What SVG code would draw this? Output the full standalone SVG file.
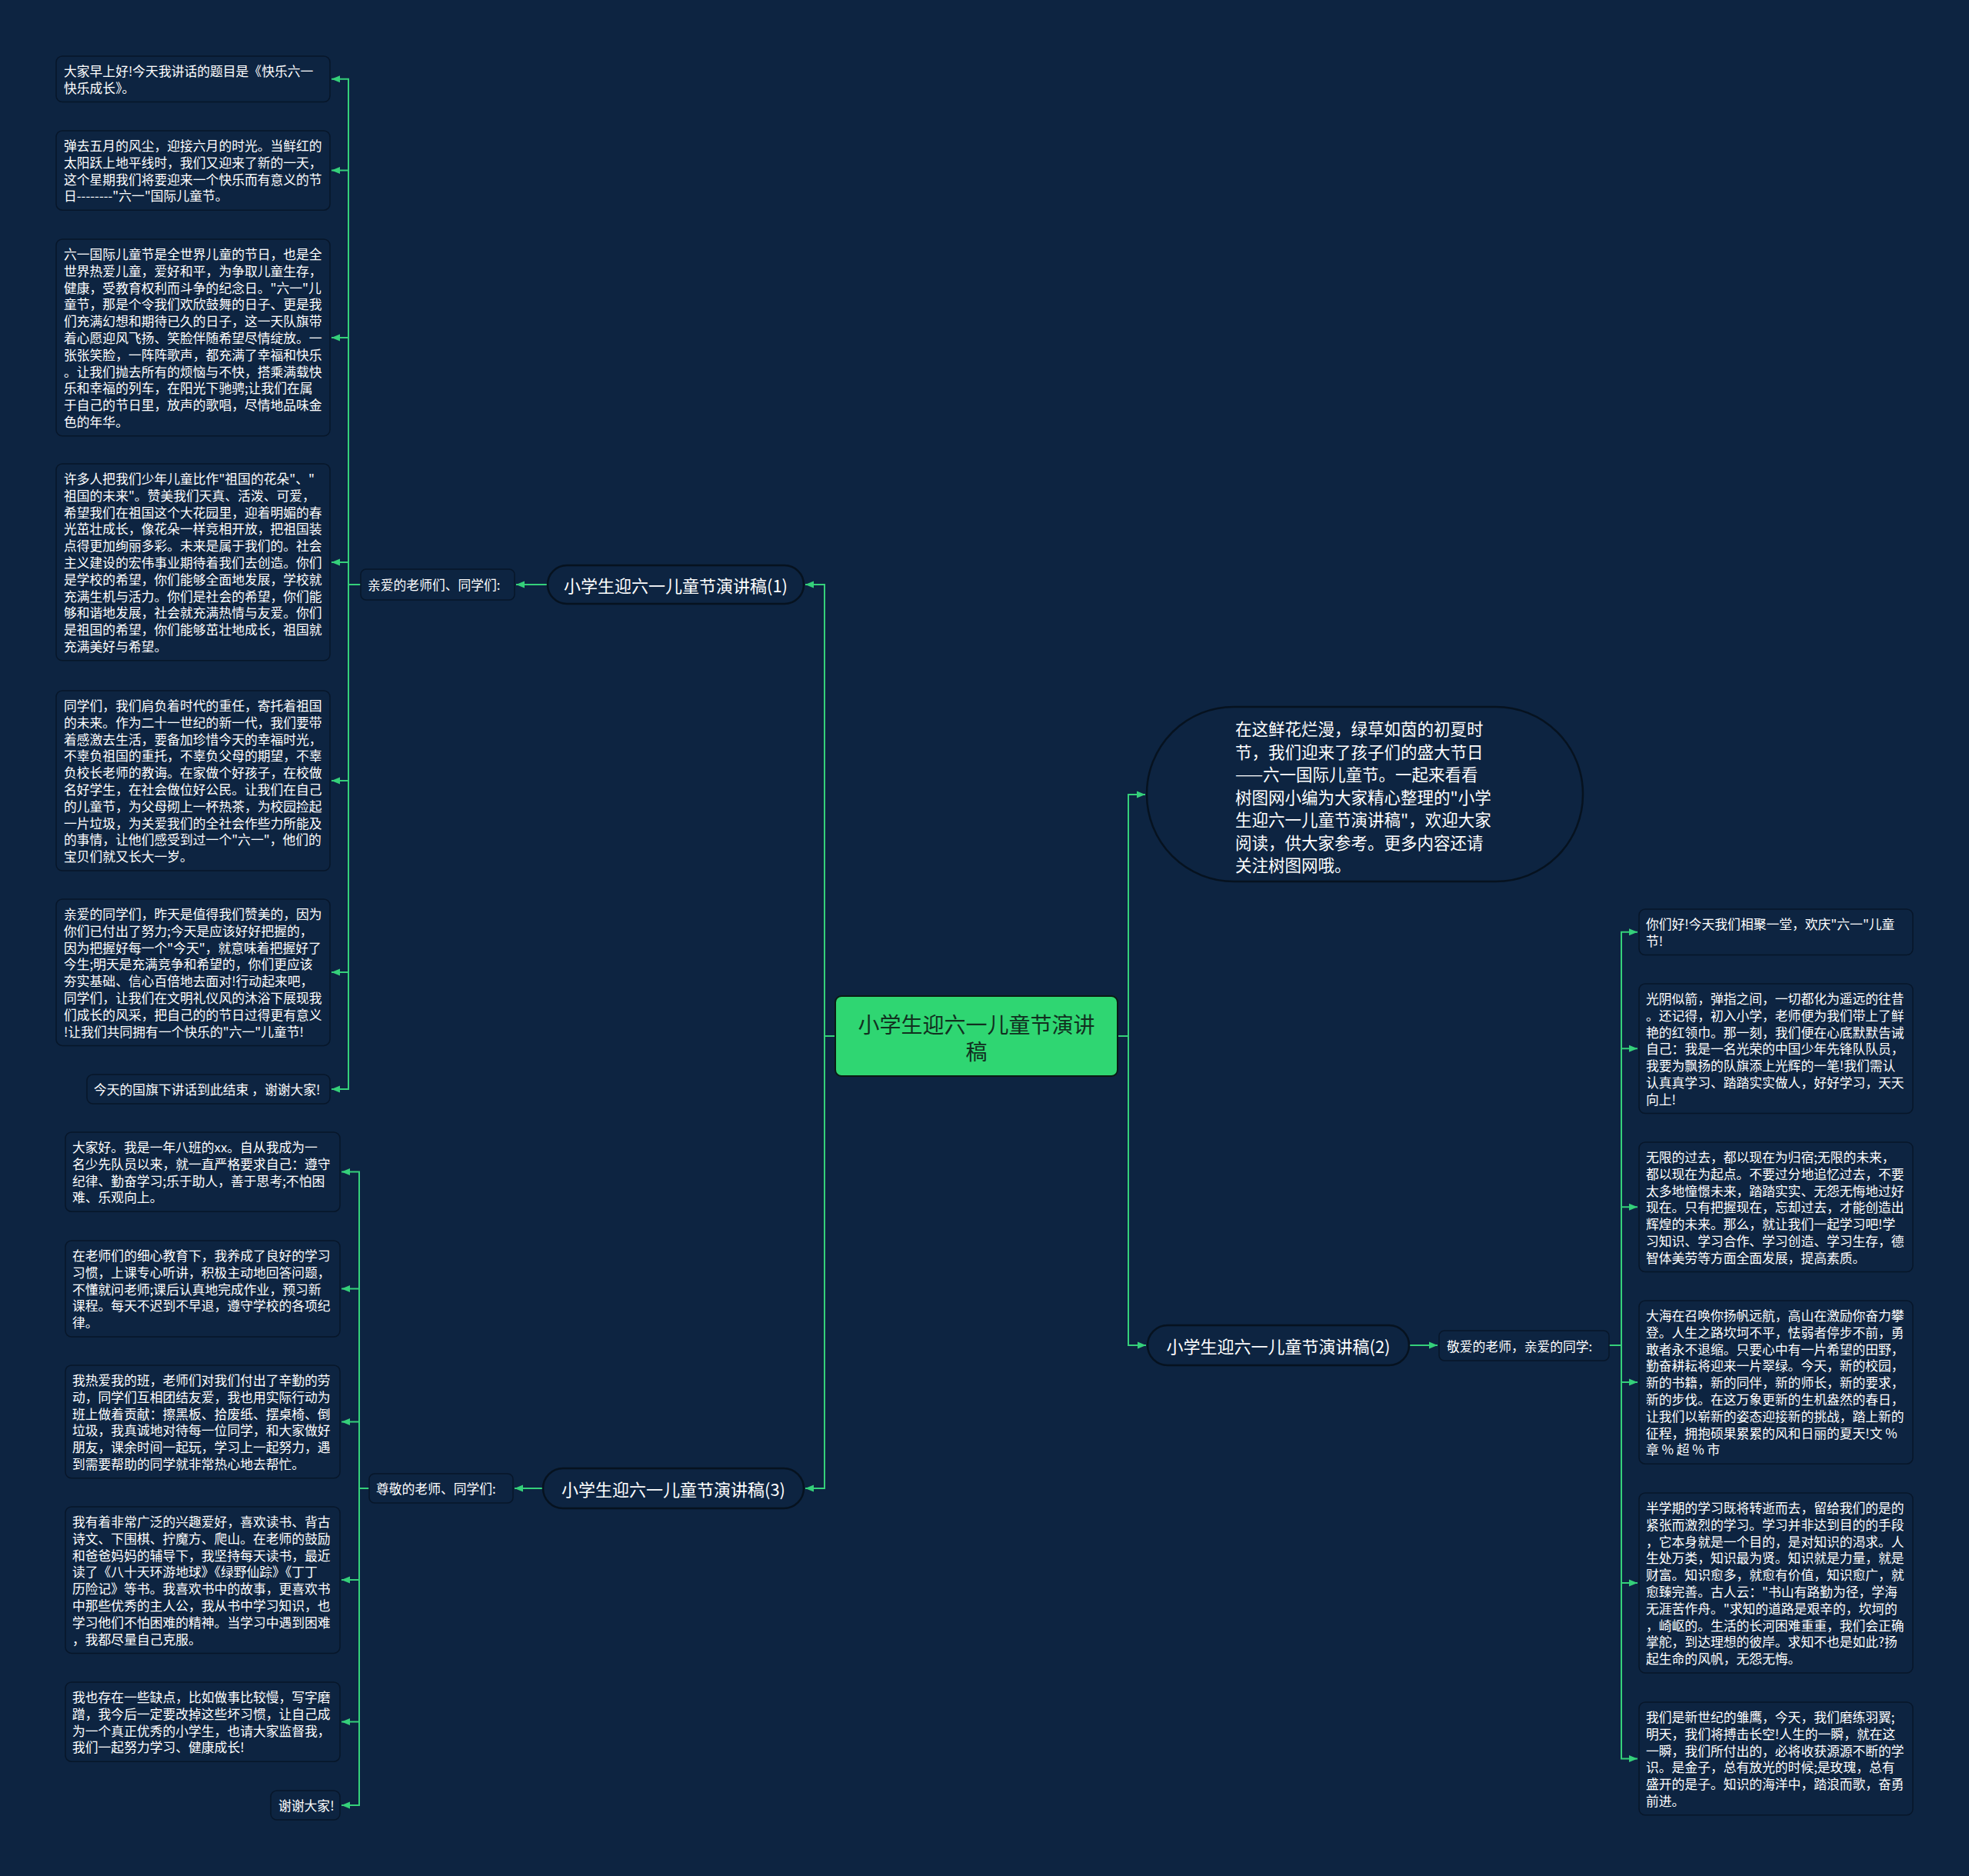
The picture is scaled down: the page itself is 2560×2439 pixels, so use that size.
<svg xmlns="http://www.w3.org/2000/svg" width="2560" height="2439" viewBox="0 0 2560 2439">
<defs>
<style>
.bg{fill:#0d2441}
.box{fill:#0d2441;stroke:#071629;stroke-width:1.5}
.pill{fill:#0d2441;stroke:#06121f;stroke-width:2.5}
.t{font-family:"Noto Sans CJK SC","Noto Sans",sans-serif;fill:#ffffff;font-size:16.8px;dominant-baseline:central}
.tn{font-family:"Noto Sans CJK SC","Noto Sans",sans-serif;fill:#ffffff;font-size:22px;dominant-baseline:central;text-anchor:middle}
.tc{font-family:"Noto Sans CJK SC","Noto Sans",sans-serif;fill:#11301f;font-size:28px;dominant-baseline:central;text-anchor:middle}
.ti{font-family:"Noto Sans CJK SC","Noto Sans",sans-serif;fill:#ffffff;font-size:21.5px;dominant-baseline:central}
.c{fill:none;stroke:#35d07a;stroke-width:2}
</style>
<marker id="ah" markerUnits="userSpaceOnUse" markerWidth="12" markerHeight="12" viewBox="0 0 12 12" refX="11" refY="6" orient="auto">
<path d="M0,1.5 L11,6 L0,10.5 Z" fill="#35d07a"/>
</marker>
</defs>
<rect class="bg" x="0" y="0" width="2560" height="2439"/>

<g id="connectors">
<path class="c" d="M1086 1347 H1072 V760 H1047" marker-end="url(#ah)"/>
<path class="c" d="M1086 1347 H1072 V1935 H1047" marker-end="url(#ah)"/>
<path class="c" d="M1453 1347 H1467 V1033 H1489" marker-end="url(#ah)"/>
<path class="c" d="M1453 1347 H1467 V1749 H1490" marker-end="url(#ah)"/>
<path class="c" d="M712 760 H671" marker-end="url(#ah)"/>
<path class="c" d="M706 1935 H669" marker-end="url(#ah)"/>
<path class="c" d="M1832 1749 H1869" marker-end="url(#ah)"/>
<path class="c" d="M469 760 H453 V102.8 H431" marker-end="url(#ah)"/>
<path class="c" d="M453 760 V221.6 H431" marker-end="url(#ah)"/>
<path class="c" d="M453 760 V438.9 H431" marker-end="url(#ah)"/>
<path class="c" d="M453 760 V730.9 H431" marker-end="url(#ah)"/>
<path class="c" d="M453 760 V1015 H431" marker-end="url(#ah)"/>
<path class="c" d="M453 760 V1264 H431" marker-end="url(#ah)"/>
<path class="c" d="M453 760 V1416 H431" marker-end="url(#ah)"/>
<path class="c" d="M480 1935 H467 V1523.6 H444" marker-end="url(#ah)"/>
<path class="c" d="M467 1935 V1675.5 H444" marker-end="url(#ah)"/>
<path class="c" d="M467 1935 V1848.4 H444" marker-end="url(#ah)"/>
<path class="c" d="M467 1935 V2054 H444" marker-end="url(#ah)"/>
<path class="c" d="M467 1935 V2238.6 H444" marker-end="url(#ah)"/>
<path class="c" d="M467 1935 V2347 H444" marker-end="url(#ah)"/>
<path class="c" d="M2092 1749 H2108 V1211.8 H2129" marker-end="url(#ah)"/>
<path class="c" d="M2108 1749 V1363.3 H2129" marker-end="url(#ah)"/>
<path class="c" d="M2108 1749 V1569.3 H2129" marker-end="url(#ah)"/>
<path class="c" d="M2108 1749 V1797 H2129" marker-end="url(#ah)"/>
<path class="c" d="M2108 1749 V2058 H2129" marker-end="url(#ah)"/>
<path class="c" d="M2108 1749 V2286.4 H2129" marker-end="url(#ah)"/>
</g>

<g id="center">
<rect x="1086" y="1295" width="367" height="104" rx="8" fill="#2fd672" stroke="#0a1a14" stroke-width="2"/>
<text class="tc"><tspan x="1269.5" y="1331">小学生迎六一儿童节演讲</tspan><tspan x="1269.5" y="1366">稿</tspan></text>
</g>

<g id="node1">
<rect class="pill" x="712" y="735" width="333" height="50" rx="25"/>
<text class="tn" x="878.5" y="760">小学生迎六一儿童节演讲稿(1)</text>
</g>
<g id="node2">
<rect class="pill" x="1492" y="1723" width="340" height="52" rx="26"/>
<text class="tn" x="1662" y="1749">小学生迎六一儿童节演讲稿(2)</text>
</g>
<g id="node3">
<rect class="pill" x="706" y="1909" width="339" height="52" rx="26"/>
<text class="tn" x="875.5" y="1935">小学生迎六一儿童节演讲稿(3)</text>
</g>

<g id="intro">
<rect class="pill" x="1491" y="919" width="567" height="227" rx="113"/>
<text class="ti">
<tspan x="1606" y="946">在这鲜花烂漫，绿草如茵的初夏时</tspan>
<tspan x="1606" y="975.5">节，我们迎来了孩子们的盛大节日</tspan>
<tspan x="1606" y="1005">——六一国际儿童节。一起来看看</tspan>
<tspan x="1606" y="1034.5">树图网小编为大家精心整理的"小学</tspan>
<tspan x="1606" y="1064">生迎六一儿童节演讲稿"，欢迎大家</tspan>
<tspan x="1606" y="1093.5">阅读，供大家参考。更多内容还请</tspan>
<tspan x="1606" y="1123">关注树图网哦。</tspan>
</text>
</g>

<g id="label1">
<rect class="box" x="469" y="740" width="200" height="40" rx="7"/>
<text class="t" x="478" y="760">亲爱的老师们、同学们:</text>
</g>
<g id="label2">
<rect class="box" x="1871" y="1730" width="221" height="39" rx="7"/>
<text class="t" x="1881" y="1749.5">敬爱的老师，亲爱的同学:</text>
</g>
<g id="label3">
<rect class="box" x="480" y="1916" width="187" height="38" rx="7"/>
<text class="t" x="489" y="1935">尊敬的老师、同学们:</text>
</g>

<g id="b1">
<rect class="box" x="73" y="73" width="356" height="59.6" rx="8"/>
<text class="t"><tspan x="83" y="92">大家早上好!今天我讲话的题目是《快乐六一</tspan><tspan x="83" y="113.8">快乐成长》。</tspan></text>
</g>
<g id="b2">
<rect class="box" x="73" y="170" width="356" height="103.2" rx="8"/>
<text class="t"><tspan x="83" y="189">弹去五月的风尘，迎接六月的时光。当鲜红的</tspan><tspan x="83" y="210.8">太阳跃上地平线时，我们又迎来了新的一天，</tspan><tspan x="83" y="232.6">这个星期我们将要迎来一个快乐而有意义的节</tspan><tspan x="83" y="254.4">日--------"六一"国际儿童节。</tspan></text>
</g>
<g id="b3">
<rect class="box" x="73" y="311" width="356" height="255.8" rx="8"/>
<text class="t"><tspan x="83" y="330">六一国际儿童节是全世界儿童的节日，也是全</tspan><tspan x="83" y="351.8">世界热爱儿童，爱好和平，为争取儿童生存，</tspan><tspan x="83" y="373.6">健康，受教育权利而斗争的纪念日。"六一"儿</tspan><tspan x="83" y="395.4">童节，那是个令我们欢欣鼓舞的日子、更是我</tspan><tspan x="83" y="417.2">们充满幻想和期待已久的日子，这一天队旗带</tspan><tspan x="83" y="439">着心愿迎风飞扬、笑脸伴随希望尽情绽放。一</tspan><tspan x="83" y="460.8">张张笑脸，一阵阵歌声，都充满了幸福和快乐</tspan><tspan x="83" y="482.6">。让我们抛去所有的烦恼与不快，搭乘满载快</tspan><tspan x="83" y="504.4">乐和幸福的列车，在阳光下驰骋;让我们在属</tspan><tspan x="83" y="526.2">于自己的节日里，放声的歌唱，尽情地品味金</tspan><tspan x="83" y="548">色的年华。</tspan></text>
</g>
<g id="b4">
<rect class="box" x="73" y="603" width="356" height="255.8" rx="8"/>
<text class="t"><tspan x="83" y="622">许多人把我们少年儿童比作"祖国的花朵"、"</tspan><tspan x="83" y="643.8">祖国的未来"。赞美我们天真、活泼、可爱，</tspan><tspan x="83" y="665.6">希望我们在祖国这个大花园里，迎着明媚的春</tspan><tspan x="83" y="687.4">光茁壮成长，像花朵一样竞相开放，把祖国装</tspan><tspan x="83" y="709.2">点得更加绚丽多彩。未来是属于我们的。社会</tspan><tspan x="83" y="731">主义建设的宏伟事业期待着我们去创造。你们</tspan><tspan x="83" y="752.8">是学校的希望，你们能够全面地发展，学校就</tspan><tspan x="83" y="774.6">充满生机与活力。你们是社会的希望，你们能</tspan><tspan x="83" y="796.4">够和谐地发展，社会就充满热情与友爱。你们</tspan><tspan x="83" y="818.2">是祖国的希望，你们能够茁壮地成长，祖国就</tspan><tspan x="83" y="840">充满美好与希望。</tspan></text>
</g>
<g id="b5">
<rect class="box" x="73" y="898" width="356" height="234" rx="8"/>
<text class="t"><tspan x="83" y="917">同学们，我们肩负着时代的重任，寄托着祖国</tspan><tspan x="83" y="938.8">的未来。作为二十一世纪的新一代，我们要带</tspan><tspan x="83" y="960.6">着感激去生活，要备加珍惜今天的幸福时光，</tspan><tspan x="83" y="982.4">不辜负祖国的重托，不辜负父母的期望，不辜</tspan><tspan x="83" y="1004.2">负校长老师的教诲。在家做个好孩子，在校做</tspan><tspan x="83" y="1026">名好学生，在社会做位好公民。让我们在自己</tspan><tspan x="83" y="1047.8">的儿童节，为父母砌上一杯热茶，为校园捡起</tspan><tspan x="83" y="1069.6">一片垃圾，为关爱我们的全社会作些力所能及</tspan><tspan x="83" y="1091.4">的事情，让他们感受到过一个"六一"，他们的</tspan><tspan x="83" y="1113.2">宝贝们就又长大一岁。</tspan></text>
</g>
<g id="b6">
<rect class="box" x="73" y="1169" width="356" height="190.4" rx="8"/>
<text class="t"><tspan x="83" y="1188">亲爱的同学们，昨天是值得我们赞美的，因为</tspan><tspan x="83" y="1209.8">你们已付出了努力;今天是应该好好把握的，</tspan><tspan x="83" y="1231.6">因为把握好每一个"今天"，就意味着把握好了</tspan><tspan x="83" y="1253.4">今生;明天是充满竞争和希望的，你们更应该</tspan><tspan x="83" y="1275.2">夯实基础、信心百倍地去面对!行动起来吧，</tspan><tspan x="83" y="1297">同学们，让我们在文明礼仪风的沐浴下展现我</tspan><tspan x="83" y="1318.8">们成长的风采，把自己的的节日过得更有意义</tspan><tspan x="83" y="1340.6">!让我们共同拥有一个快乐的"六一"儿童节!</tspan></text>
</g>
<g id="b7">
<rect class="box" x="113" y="1397" width="316" height="38" rx="8"/>
<text class="t" x="122" y="1416">今天的国旗下讲话到此结束 ，谢谢大家!</text>
</g>

<g id="b8">
<rect class="box" x="85" y="1472" width="357" height="103.2" rx="8"/>
<text class="t"><tspan x="94" y="1491">大家好。我是一年八班的xx。自从我成为一</tspan><tspan x="94" y="1512.8">名少先队员以来，就一直严格要求自己：遵守</tspan><tspan x="94" y="1534.6">纪律、勤奋学习;乐于助人，善于思考;不怕困</tspan><tspan x="94" y="1556.4">难、乐观向上。</tspan></text>
</g>
<g id="b9">
<rect class="box" x="85" y="1613" width="357" height="125" rx="8"/>
<text class="t"><tspan x="94" y="1632">在老师们的细心教育下，我养成了良好的学习</tspan><tspan x="94" y="1653.8">习惯，上课专心听讲，积极主动地回答问题，</tspan><tspan x="94" y="1675.6">不懂就问老师;课后认真地完成作业，预习新</tspan><tspan x="94" y="1697.4">课程。每天不迟到不早退，遵守学校的各项纪</tspan><tspan x="94" y="1719.2">律。</tspan></text>
</g>
<g id="b10">
<rect class="box" x="85" y="1775" width="357" height="146.8" rx="8"/>
<text class="t"><tspan x="94" y="1794">我热爱我的班，老师们对我们付出了辛勤的劳</tspan><tspan x="94" y="1815.8">动，同学们互相团结友爱，我也用实际行动为</tspan><tspan x="94" y="1837.6">班上做着贡献：擦黑板、拾废纸、摆桌椅、倒</tspan><tspan x="94" y="1859.4">垃圾，我真诚地对待每一位同学，和大家做好</tspan><tspan x="94" y="1881.2">朋友，课余时间一起玩，学习上一起努力，遇</tspan><tspan x="94" y="1903">到需要帮助的同学就非常热心地去帮忙。</tspan></text>
</g>
<g id="b11">
<rect class="box" x="85" y="1959" width="357" height="190.4" rx="8"/>
<text class="t"><tspan x="94" y="1978">我有着非常广泛的兴趣爱好，喜欢读书、背古</tspan><tspan x="94" y="1999.8">诗文、下围棋、拧魔方、爬山。在老师的鼓励</tspan><tspan x="94" y="2021.6">和爸爸妈妈的辅导下，我坚持每天读书，最近</tspan><tspan x="94" y="2043.4">读了《八十天环游地球》《绿野仙踪》《丁丁</tspan><tspan x="94" y="2065.2">历险记》等书。我喜欢书中的故事，更喜欢书</tspan><tspan x="94" y="2087">中那些优秀的主人公，我从书中学习知识，也</tspan><tspan x="94" y="2108.8">学习他们不怕困难的精神。当学习中遇到困难</tspan><tspan x="94" y="2130.6">，我都尽量自己克服。</tspan></text>
</g>
<g id="b12">
<rect class="box" x="85" y="2187" width="357" height="103.2" rx="8"/>
<text class="t"><tspan x="94" y="2206">我也存在一些缺点，比如做事比较慢，写字磨</tspan><tspan x="94" y="2227.8">蹭，我今后一定要改掉这些坏习惯，让自己成</tspan><tspan x="94" y="2249.6">为一个真正优秀的小学生，也请大家监督我，</tspan><tspan x="94" y="2271.4">我们一起努力学习、健康成长!</tspan></text>
</g>
<g id="b13">
<rect class="box" x="352" y="2328" width="90" height="38" rx="8"/>
<text class="t" x="362" y="2347">谢谢大家!</text>
</g>

<g id="r1">
<rect class="box" x="2131" y="1182" width="356" height="59.6" rx="8"/>
<text class="t"><tspan x="2140" y="1201">你们好!今天我们相聚一堂，欢庆"六一"儿童</tspan><tspan x="2140" y="1222.8">节!</tspan></text>
</g>
<g id="r2">
<rect class="box" x="2131" y="1279" width="356" height="168.6" rx="8"/>
<text class="t"><tspan x="2140" y="1298">光阴似箭，弹指之间，一切都化为遥远的往昔</tspan><tspan x="2140" y="1319.8">。还记得，初入小学，老师便为我们带上了鲜</tspan><tspan x="2140" y="1341.6">艳的红领巾。那一刻，我们便在心底默默告诫</tspan><tspan x="2140" y="1363.4">自己：我是一名光荣的中国少年先锋队队员，</tspan><tspan x="2140" y="1385.2">我要为飘扬的队旗添上光辉的一笔!我们需认</tspan><tspan x="2140" y="1407">认真真学习、踏踏实实做人，好好学习，天天</tspan><tspan x="2140" y="1428.8">向上!</tspan></text>
</g>
<g id="r3">
<rect class="box" x="2131" y="1485" width="356" height="168.6" rx="8"/>
<text class="t"><tspan x="2140" y="1504">无限的过去，都以现在为归宿;无限的未来，</tspan><tspan x="2140" y="1525.8">都以现在为起点。不要过分地追忆过去，不要</tspan><tspan x="2140" y="1547.6">太多地憧憬未来，踏踏实实、无怨无悔地过好</tspan><tspan x="2140" y="1569.4">现在。只有把握现在，忘却过去，才能创造出</tspan><tspan x="2140" y="1591.2">辉煌的未来。那么，就让我们一起学习吧!学</tspan><tspan x="2140" y="1613">习知识、学习合作、学习创造、学习生存，德</tspan><tspan x="2140" y="1634.8">智体美劳等方面全面发展，提高素质。</tspan></text>
</g>
<g id="r4">
<rect class="box" x="2131" y="1691" width="356" height="212.2" rx="8"/>
<text class="t"><tspan x="2140" y="1710">大海在召唤你扬帆远航，高山在激励你奋力攀</tspan><tspan x="2140" y="1731.8">登。人生之路坎坷不平，怯弱者停步不前，勇</tspan><tspan x="2140" y="1753.6">敢者永不退缩。只要心中有一片希望的田野，</tspan><tspan x="2140" y="1775.4">勤奋耕耘将迎来一片翠绿。今天，新的校园，</tspan><tspan x="2140" y="1797.2">新的书籍，新的同伴，新的师长，新的要求，</tspan><tspan x="2140" y="1819">新的步伐。在这万象更新的生机盎然的春日，</tspan><tspan x="2140" y="1840.8">让我们以崭新的姿态迎接新的挑战，踏上新的</tspan><tspan x="2140" y="1862.6">征程，拥抱硕果累累的风和日丽的夏天!文 %</tspan><tspan x="2140" y="1884.4">章 % 超 % 市</tspan></text>
</g>
<g id="r5">
<rect class="box" x="2131" y="1941" width="356" height="234" rx="8"/>
<text class="t"><tspan x="2140" y="1960">半学期的学习既将转逝而去，留给我们的是的</tspan><tspan x="2140" y="1981.8">紧张而激烈的学习。学习并非达到目的的手段</tspan><tspan x="2140" y="2003.6">，它本身就是一个目的，是对知识的渴求。人</tspan><tspan x="2140" y="2025.4">生处万类，知识最为贤。知识就是力量，就是</tspan><tspan x="2140" y="2047.2">财富。知识愈多，就愈有价值，知识愈广，就</tspan><tspan x="2140" y="2069">愈臻完善。古人云："书山有路勤为径，学海</tspan><tspan x="2140" y="2090.8">无涯苦作舟。"求知的道路是艰辛的，坎坷的</tspan><tspan x="2140" y="2112.6">，崎岖的。生活的长河困难重重，我们会正确</tspan><tspan x="2140" y="2134.4">掌舵，到达理想的彼岸。求知不也是如此?扬</tspan><tspan x="2140" y="2156.2">起生命的风帆，无怨无悔。</tspan></text>
</g>
<g id="r6">
<rect class="box" x="2131" y="2213" width="356" height="146.8" rx="8"/>
<text class="t"><tspan x="2140" y="2232">我们是新世纪的雏鹰，今天，我们磨练羽翼;</tspan><tspan x="2140" y="2253.8">明天，我们将搏击长空!人生的一瞬，就在这</tspan><tspan x="2140" y="2275.6">一瞬，我们所付出的，必将收获源源不断的学</tspan><tspan x="2140" y="2297.4">识。是金子，总有放光的时候;是玫瑰，总有</tspan><tspan x="2140" y="2319.2">盛开的是子。知识的海洋中，踏浪而歌，奋勇</tspan><tspan x="2140" y="2341">前进。</tspan></text>
</g>
</svg>
